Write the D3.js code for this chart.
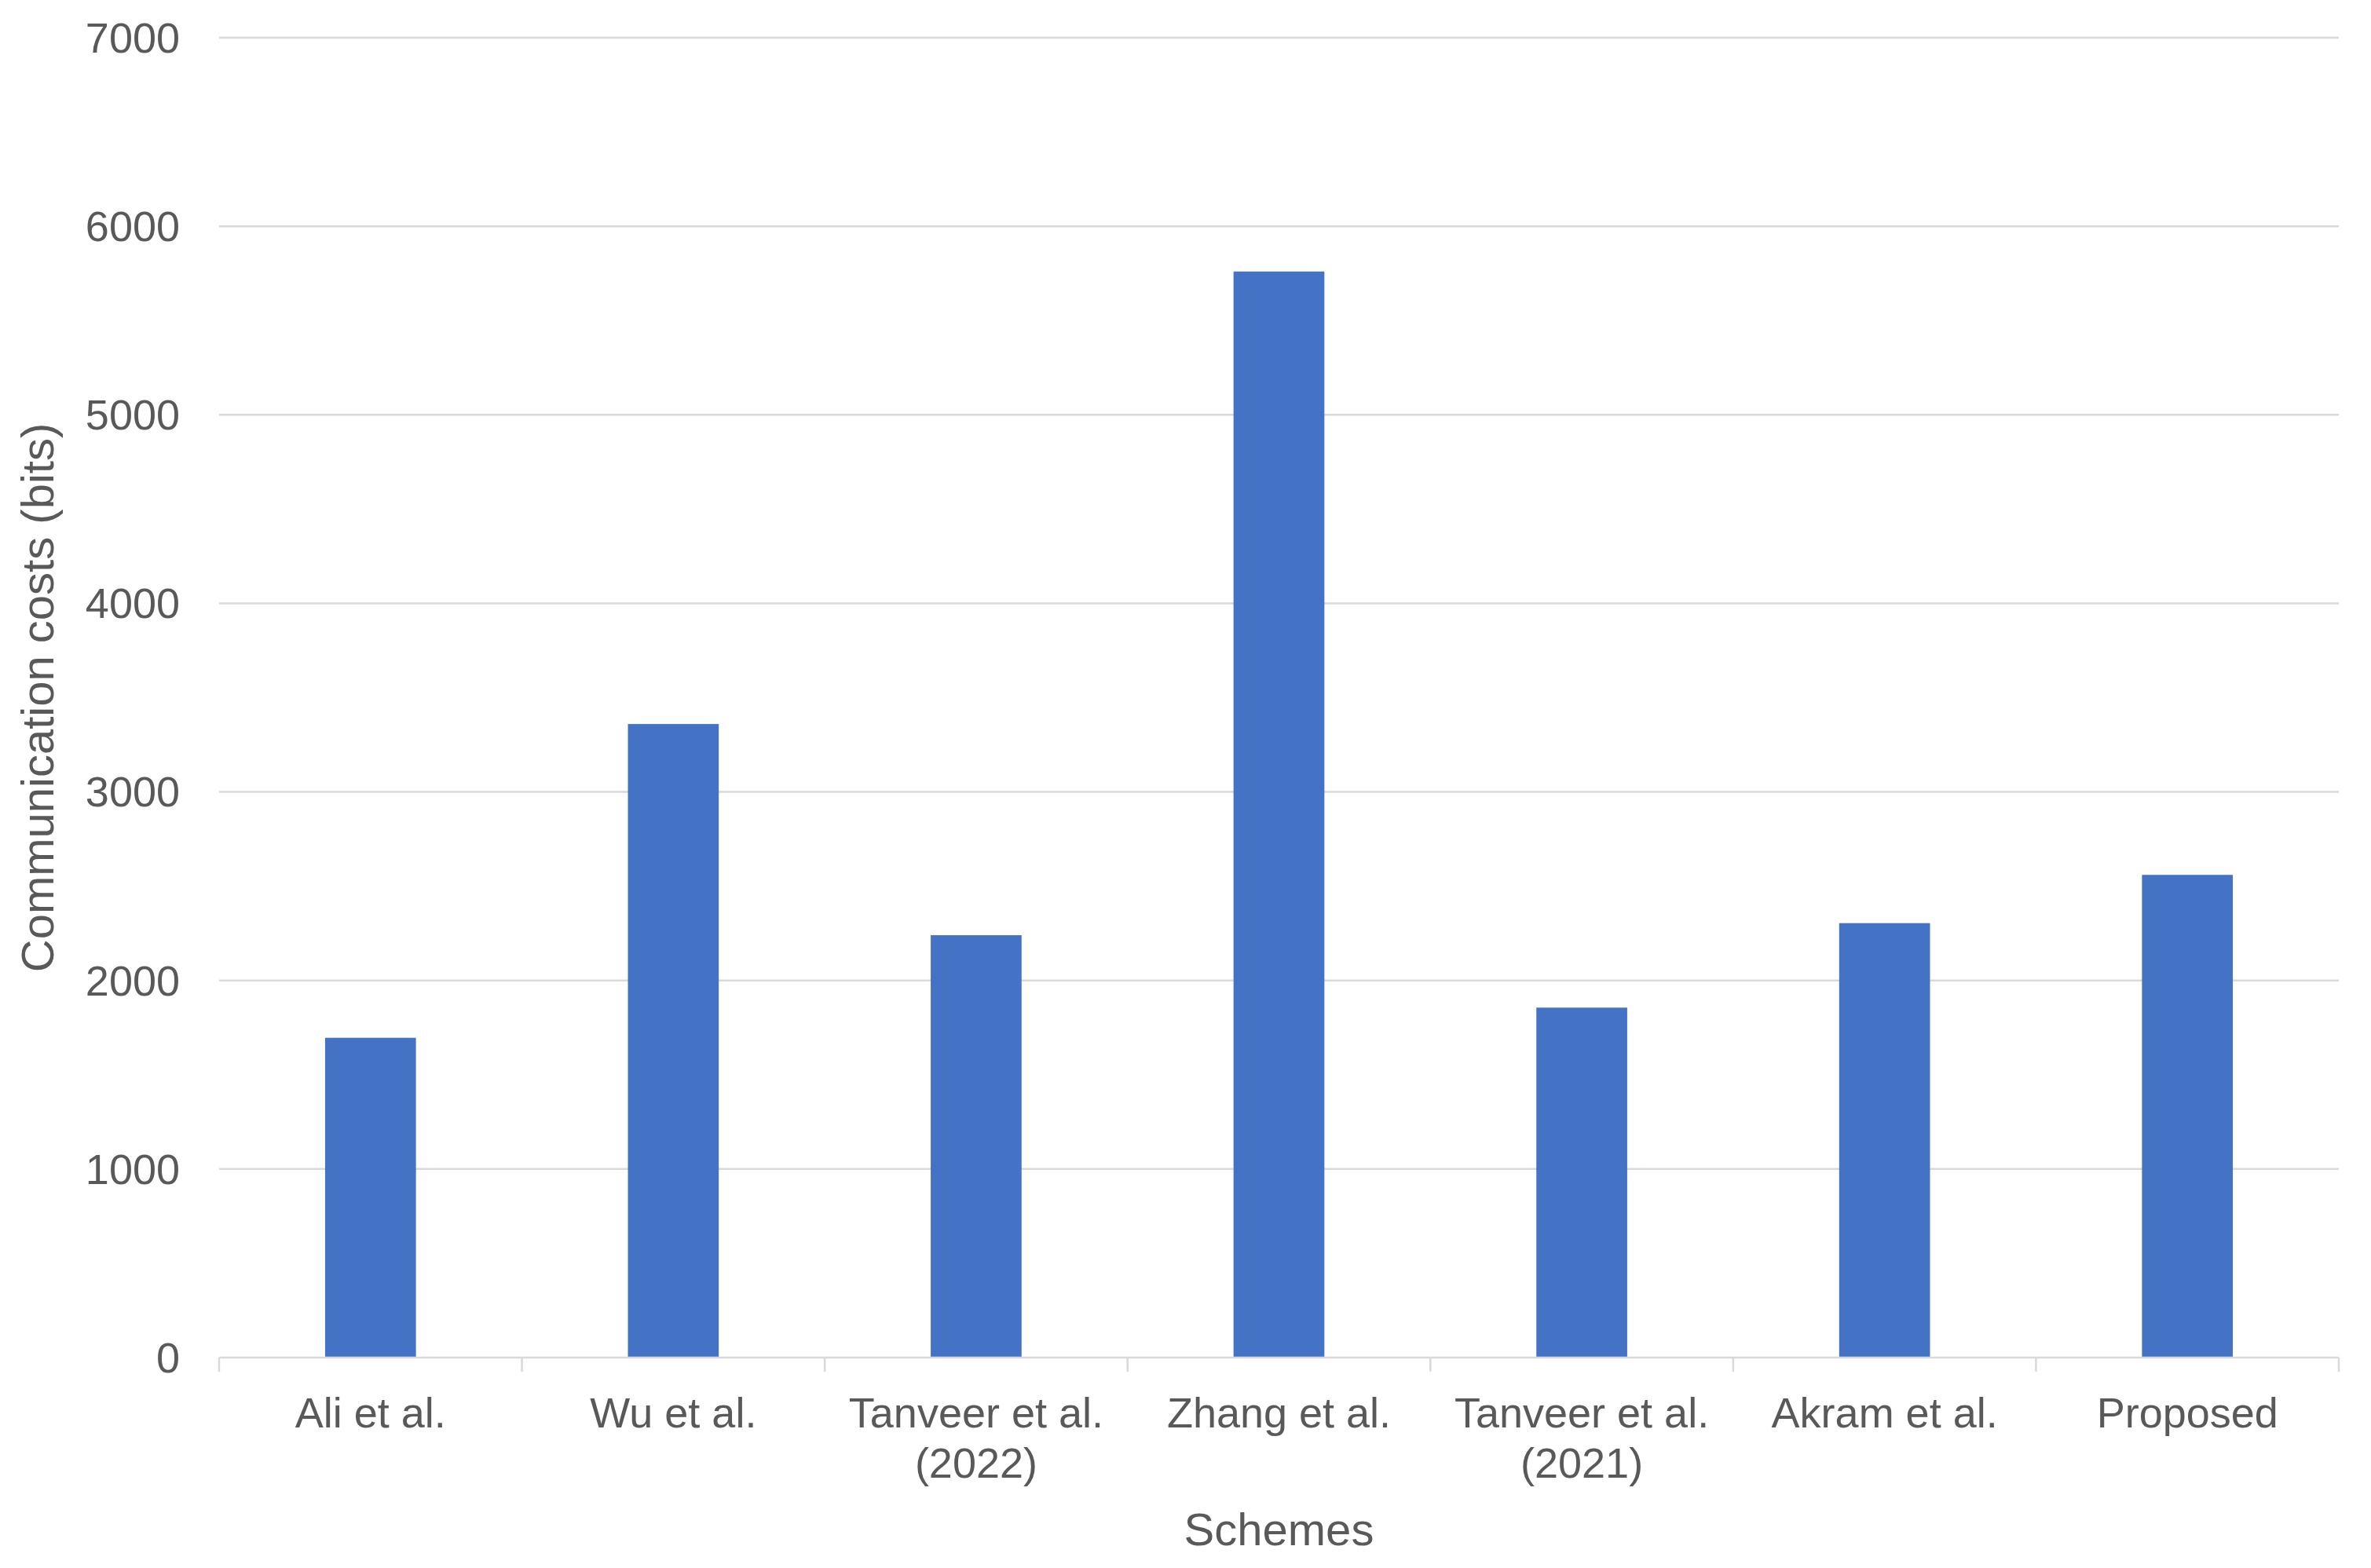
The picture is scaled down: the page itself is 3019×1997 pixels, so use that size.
<!DOCTYPE html>
<html><head><meta charset="utf-8">
<script src="https://cdn.jsdelivr.net/npm/d3@7"></script>
<style>body{margin:0;background:#fff}text{font-family:Arial,"Liberation Sans",sans-serif;fill:#595959}</style>
</head><body>
<svg id="c" width="3019" height="1997"></svg>
<script>
const categories = [['Ali et al.'], ['Wu et al.'], ['Tanveer et al.', '(2022)'], ['Zhang et al.'], ['Tanveer et al.', '(2021)'], ['Akram et al.'], ['Proposed']]
const costs = [1696, 3360, 2240, 5760, 1856, 2304, 2560]
const yTicks = [0, 1000, 2000, 3000, 4000, 5000, 6000, 7000]

const svg = d3.select('#c')
const m = {left: 279, right: 2978, top: 48, bottom: 1729}
const x = d3.scaleBand().domain(d3.range(categories.length)).range([m.left, m.right]).paddingInner(0.7).paddingOuter(0.35)
const band = d3.scaleBand().domain(d3.range(categories.length)).range([m.left, m.right])
const y = d3.scaleLinear().domain([0, 7000]).range([m.bottom, m.top])

svg.append('g').selectAll('line').data(yTicks.slice(1)).join('line')
  .attr('x1', m.left).attr('x2', m.right).attr('y1', d => y(d)).attr('y2', d => y(d))
  .attr('stroke', '#d9d9d9').attr('stroke-width', 2.5)

svg.append('g').selectAll('text').data(yTicks).join('text')
  .attr('x', m.left - 50).attr('y', d => y(d)).attr('dy', '0.35em')
  .attr('text-anchor', 'end').attr('font-size', 54).text(d => d)

svg.append('g').selectAll('rect').data(costs).join('rect')
  .attr('x', (d, i) => x(i)).attr('width', x.bandwidth())
  .attr('y', d => y(d)).attr('height', d => y(0) - y(d)).attr('fill', '#4472C4')

svg.append('line').attr('x1', m.left).attr('x2', m.right).attr('y1', m.bottom).attr('y2', m.bottom)
  .attr('stroke', '#d9d9d9').attr('stroke-width', 2.5)
svg.append('g').selectAll('line').data(d3.range(categories.length + 1)).join('line')
  .attr('x1', i => m.left + i * band.bandwidth()).attr('x2', i => m.left + i * band.bandwidth())
  .attr('y1', m.bottom).attr('y2', m.bottom + 18).attr('stroke', '#d9d9d9').attr('stroke-width', 2.5)

const lab = svg.append('g').selectAll('text').data(categories).join('text')
  .attr('x', (d, i) => band(i) + band.bandwidth() / 2).attr('y', 1818)
  .attr('text-anchor', 'middle').attr('font-size', 54)
lab.selectAll('tspan').data(d => d).join('tspan')
  .attr('x', function () { return this.parentNode.getAttribute('x') })
  .attr('dy', (d, i) => i ? 64 : 0).text(d => d)

svg.append('text').attr('x', (m.left + m.right) / 2).attr('y', 1968)
  .attr('text-anchor', 'middle').attr('font-size', 58).text('Schemes')
svg.append('text').attr('transform', `translate(68,${(m.top + m.bottom) / 2}) rotate(-90)`)
  .attr('text-anchor', 'middle').attr('font-size', 58).text('Communication costs (bits)')
</script>
</body></html>
